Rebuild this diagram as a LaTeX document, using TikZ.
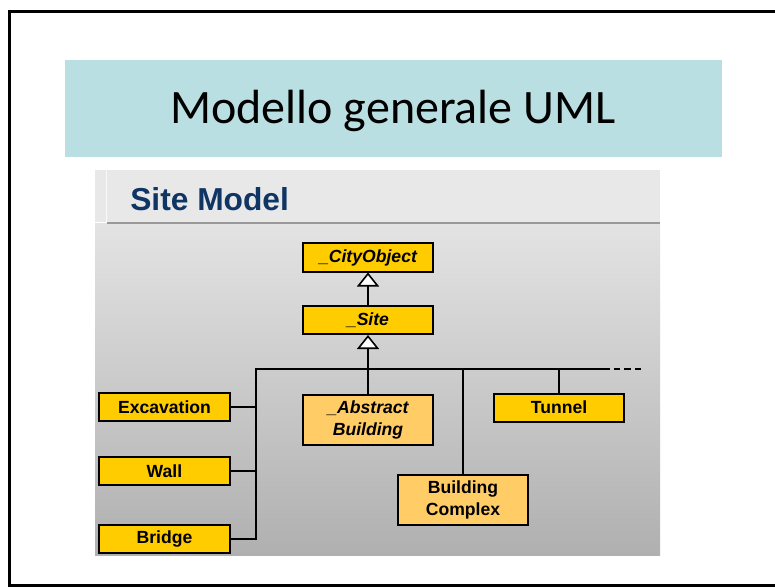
\documentclass[tikz,border=0pt]{standalone}
\usepackage{fontspec}
\setmainfont{Liberation Sans}
\newfontfamily\slidefont{Carlito}
\usetikzlibrary{arrows.meta,positioning}
\definecolor{slideteal}{HTML}{BADFE2}
\definecolor{umlyellow}{HTML}{FFCC00}
\definecolor{umllight}{HTML}{FFCC66}
\definecolor{headblue}{HTML}{0E3563}
\begin{document}
\begin{tikzpicture}[x=0.75pt,y=-0.75pt,
	cls/.style={draw=black,line width=1.5pt,fill=umlyellow,minimum width=98pt,minimum height=21pt,inner sep=1pt,align=center,font=\fontsize{13.2}{16}\selectfont\bfseries},
	abscls/.style={cls,font=\fontsize{13.2}{16}\selectfont\bfseries\itshape},
	tall/.style={fill=umllight,minimum height=38pt},
	link/.style={line width=1.2pt},
	gen/.style={link,-{Triangle[fill=white,length=10.5pt,width=16.5pt]}}]
	\useasboundingbox (0,0) rectangle (775,588);
	% slide frame and title band
	\fill[white] (0,0) rectangle (775,588);
	\draw[line width=2.2pt] (775,11.5) -- (9.5,11.5) -- (9.5,585.5) -- (775,585.5);
	\fill[slideteal] (65,60) rectangle (722,157);
	\node[font=\slidefont\fontsize{36}{40}\selectfont,inner sep=0,anchor=base] (title) at (393,124) {Modello generale UML};
	% grey panel with its header
	\fill[gray!18] (95,170) rectangle (660,222);
	\draw[gray!5,line width=0.6pt] (106,170) -- (106,222);
	\shade[top color=gray!22,bottom color=gray!62] (95,224) rectangle (660,555);
	\draw[gray!80,line width=1.5pt] (107,223) -- (660,223);
	\node[font=\fontsize{23.8}{27}\selectfont\bfseries,text=headblue,inner sep=0,anchor=base west] (head) at (130,210) {Site Model};
	% classes
	\node[abscls] (city) at (368,257.5) {\_CityObject};
	\node[abscls] (site) at (368,320) {\_Site};
	\node[abscls,tall] (abs) at (368,420) {\_Abstract\\Building};
	\node[cls] (exc) at (164.5,407) {Excavation};
	\node[cls] (wall) at (164.5,471) {Wall};
	\node[cls] (bri) at (164.5,539) {Bridge};
	\node[cls] (tun) at (559,407.5) {Tunnel};
	\node[cls,tall] (bc) at (463,500) {Building\\Complex};
	% generalisation lines
	\coordinate (busL) at (256,369);
	\coordinate (busR) at (603,369);
	\coordinate (busE) at (641,369);
	\draw[gen] (site.north) -- (city.south);
	\draw[gen] (abs.north) -- (site.south);
	\draw[link] (bri.east) -| (busL) -- (busR);
	\draw[link,dashed,dash pattern=on 5pt off 3pt] (busR) -- (busE);
	\draw[link] (exc.east) -- (exc.east -| busL);
	\draw[link] (wall.east) -- (wall.east -| busL);
	\draw[link] (bc.north) -- (bc.north |- busL);
	\draw[link] (tun.north) -- (tun.north |- busL);
\end{tikzpicture}
\end{document}
